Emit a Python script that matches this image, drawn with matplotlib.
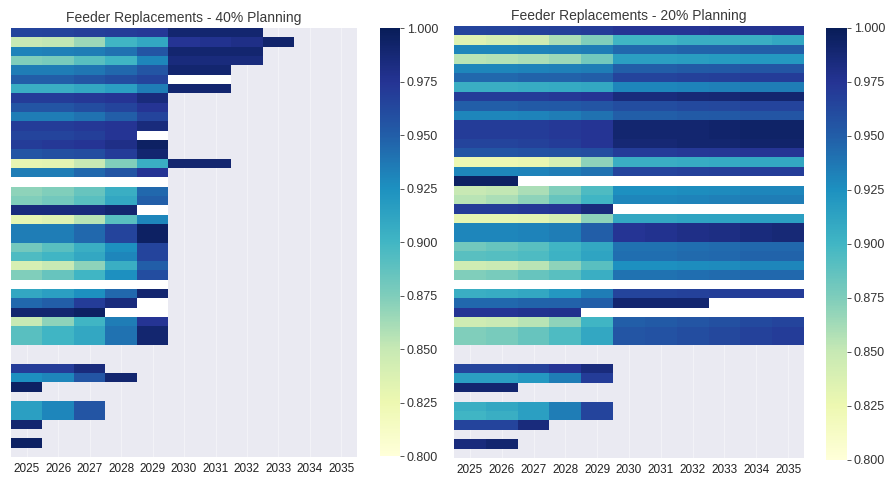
import numpy as np
import matplotlib
matplotlib.use("Agg")
import matplotlib.pyplot as plt
import seaborn as sns

years = [2025, 2026, 2027, 2028, 2029, 2030, 2031, 2032, 2033, 2034, 2035]
N = None   # feeder not in the plan for that year
Z = 0.0    # feeder listed, no rating (drawn white)

# Feeder ratings per year, 40% planning scenario (one row per feeder)
planning_40 = [
    [0.965, 0.966, 0.968, 0.970, 0.972, 0.990, 0.990, 0.990, N, N, N],
    [0.850, 0.852, 0.865, 0.900, 0.910, 0.975, 0.977, 0.980, 0.992, N, N],
    [0.932, 0.933, 0.935, 0.940, 0.955, 0.990, 0.990, 0.990, N, N, N],
    [0.875, 0.878, 0.890, 0.900, 0.930, 0.985, 0.985, 0.985, N, N, N],
    [0.935, 0.935, 0.938, 0.945, 0.955, 0.990, 0.990, N, N, N, N],
    [0.950, 0.950, 0.955, 0.960, 0.965, Z, Z, N, N, N, N],
    [0.905, 0.905, 0.910, 0.915, 0.935, 0.990, 0.990, N, N, N, N],
    [0.970, 0.970, 0.972, 0.975, 0.985, N, N, N, N, N, N],
    [0.955, 0.955, 0.960, 0.965, 0.975, N, N, N, N, N, N],
    [0.935, 0.935, 0.940, 0.950, 0.965, N, N, N, N, N, N],
    [0.970, 0.970, 0.972, 0.975, 0.985, N, N, N, N, N, N],
    [0.965, 0.965, 0.968, 0.975, Z, N, N, N, N, N, N],
    [0.970, 0.972, 0.975, 0.980, 0.995, N, N, N, N, N, N],
    [0.955, 0.958, 0.960, 0.970, 0.990, N, N, N, N, N, N],
    [0.830, 0.832, 0.850, 0.875, 0.905, 0.990, 0.990, N, N, N, N],
    [0.935, 0.935, 0.945, 0.955, 0.975, N, N, N, N, N, N],
    [Z, Z, Z, Z, Z, N, N, N, N, N, N],
    [0.870, 0.875, 0.885, 0.905, 0.945, N, N, N, N, N, N],
    [0.875, 0.880, 0.890, 0.910, 0.950, N, N, N, N, N, N],
    [0.985, 0.985, 0.985, 0.990, Z, N, N, N, N, N, N],
    [0.830, 0.835, 0.855, 0.890, 0.930, N, N, N, N, N, N],
    [0.935, 0.935, 0.945, 0.965, 0.995, N, N, N, N, N, N],
    [0.935, 0.935, 0.945, 0.965, 0.995, N, N, N, N, N, N],
    [0.880, 0.890, 0.905, 0.925, 0.965, N, N, N, N, N, N],
    [0.895, 0.900, 0.910, 0.930, 0.965, N, N, N, N, N, N],
    [0.840, 0.850, 0.870, 0.905, 0.950, N, N, N, N, N, N],
    [0.875, 0.885, 0.900, 0.925, 0.960, N, N, N, N, N, N],
    [Z, Z, Z, Z, Z, N, N, N, N, N, N],
    [0.910, 0.915, 0.925, 0.945, 0.990, N, N, N, N, N, N],
    [0.945, 0.950, 0.970, 0.985, Z, N, N, N, N, N, N],
    [0.990, 0.990, 0.995, Z, Z, N, N, N, N, N, N],
    [0.850, 0.870, 0.900, 0.935, 0.975, N, N, N, N, N, N],
    [0.890, 0.900, 0.910, 0.940, 0.990, N, N, N, N, N, N],
    [0.890, 0.900, 0.910, 0.940, 0.990, N, N, N, N, N, N],
    [N, N, N, N, N, N, N, N, N, N, N],
    [N, N, N, N, N, N, N, N, N, N, N],
    [0.970, 0.970, 0.985, N, N, N, N, N, N, N, N],
    [0.925, 0.930, 0.955, 0.990, N, N, N, N, N, N, N],
    [0.995, N, N, N, N, N, N, N, N, N, N],
    [N, N, N, N, N, N, N, N, N, N, N],
    [0.915, 0.930, 0.955, N, N, N, N, N, N, N, N],
    [0.915, 0.930, 0.955, N, N, N, N, N, N, N, N],
    [0.990, N, N, N, N, N, N, N, N, N, N],
    [N, N, N, N, N, N, N, N, N, N, N],
    [0.995, N, N, N, N, N, N, N, N, N, N],
    [N, N, N, N, N, N, N, N, N, N, N],
]

# Feeder ratings per year, 20% planning scenario (same feeder order)
planning_20 = [
    [0.965, 0.966, 0.967, 0.968, 0.970, 0.975, 0.975, 0.975, 0.976, 0.976, 0.977],
    [0.835, 0.840, 0.845, 0.860, 0.875, 0.900, 0.900, 0.905, 0.905, 0.905, 0.910],
    [0.930, 0.930, 0.932, 0.933, 0.935, 0.945, 0.945, 0.947, 0.948, 0.950, 0.950],
    [0.855, 0.857, 0.860, 0.865, 0.880, 0.915, 0.915, 0.917, 0.918, 0.920, 0.920],
    [0.930, 0.930, 0.932, 0.933, 0.935, 0.950, 0.950, 0.952, 0.953, 0.955, 0.955],
    [0.945, 0.945, 0.947, 0.948, 0.950, 0.965, 0.965, 0.967, 0.968, 0.970, 0.970],
    [0.905, 0.905, 0.907, 0.908, 0.910, 0.930, 0.930, 0.932, 0.933, 0.935, 0.935],
    [0.970, 0.970, 0.970, 0.972, 0.975, 0.985, 0.985, 0.987, 0.988, 0.990, 0.990],
    [0.950, 0.950, 0.952, 0.953, 0.955, 0.960, 0.960, 0.962, 0.963, 0.965, 0.965],
    [0.930, 0.930, 0.932, 0.935, 0.940, 0.950, 0.950, 0.952, 0.953, 0.955, 0.955],
    [0.970, 0.970, 0.970, 0.972, 0.975, 0.990, 0.990, 0.990, 0.992, 0.993, 0.993],
    [0.970, 0.970, 0.970, 0.972, 0.975, 0.990, 0.990, 0.990, 0.992, 0.993, 0.993],
    [0.965, 0.965, 0.967, 0.970, 0.975, 0.988, 0.988, 0.990, 0.990, 0.992, 0.992],
    [0.955, 0.955, 0.957, 0.958, 0.960, 0.970, 0.970, 0.972, 0.973, 0.975, 0.975],
    [0.825, 0.825, 0.828, 0.840, 0.870, 0.905, 0.905, 0.907, 0.908, 0.910, 0.910],
    [0.930, 0.930, 0.932, 0.935, 0.940, 0.965, 0.965, 0.967, 0.968, 0.970, 0.970],
    [0.995, 0.995, Z, Z, Z, Z, Z, Z, Z, Z, Z],
    [0.850, 0.852, 0.860, 0.875, 0.895, 0.925, 0.925, 0.927, 0.928, 0.930, 0.930],
    [0.855, 0.860, 0.870, 0.885, 0.900, 0.930, 0.930, 0.932, 0.933, 0.935, 0.935],
    [0.970, 0.970, 0.972, 0.975, 0.985, Z, Z, Z, Z, Z, Z],
    [0.830, 0.830, 0.832, 0.840, 0.870, 0.910, 0.910, 0.912, 0.913, 0.915, 0.915],
    [0.930, 0.930, 0.932, 0.935, 0.950, 0.975, 0.977, 0.980, 0.982, 0.985, 0.987],
    [0.930, 0.930, 0.932, 0.935, 0.950, 0.975, 0.977, 0.980, 0.982, 0.985, 0.987],
    [0.880, 0.885, 0.890, 0.900, 0.910, 0.940, 0.940, 0.942, 0.943, 0.945, 0.945],
    [0.890, 0.892, 0.895, 0.903, 0.912, 0.942, 0.942, 0.944, 0.945, 0.947, 0.947],
    [0.845, 0.848, 0.855, 0.870, 0.890, 0.925, 0.925, 0.927, 0.928, 0.930, 0.930],
    [0.875, 0.878, 0.885, 0.890, 0.905, 0.940, 0.940, 0.942, 0.943, 0.945, 0.945],
    [Z, Z, Z, Z, Z, Z, Z, Z, Z, Z, Z],
    [0.905, 0.907, 0.910, 0.920, 0.935, 0.965, 0.965, 0.967, 0.968, 0.970, 0.970],
    [0.945, 0.945, 0.947, 0.948, 0.950, 0.990, 0.990, 0.990, Z, Z, Z],
    [0.975, 0.975, 0.977, 0.978, Z, Z, Z, Z, Z, Z, Z],
    [0.845, 0.848, 0.855, 0.870, 0.900, 0.950, 0.952, 0.955, 0.958, 0.962, 0.965],
    [0.875, 0.878, 0.885, 0.895, 0.910, 0.955, 0.957, 0.960, 0.963, 0.967, 0.970],
    [0.875, 0.878, 0.885, 0.895, 0.910, 0.955, 0.957, 0.960, 0.963, 0.967, 0.970],
    [N, N, N, N, N, N, N, N, N, N, N],
    [N, N, N, N, N, N, N, N, N, N, N],
    [0.965, 0.965, 0.967, 0.975, 0.985, N, N, N, N, N, N],
    [0.915, 0.915, 0.920, 0.935, 0.970, N, N, N, N, N, N],
    [0.990, 0.990, N, N, N, N, N, N, N, N, N],
    [N, N, N, N, N, N, N, N, N, N, N],
    [0.905, 0.910, 0.915, 0.935, 0.965, N, N, N, N, N, N],
    [0.900, 0.905, 0.915, 0.935, 0.965, N, N, N, N, N, N],
    [0.965, 0.965, 0.985, N, N, N, N, N, N, N, N],
    [N, N, N, N, N, N, N, N, N, N, N],
    [0.985, 0.990, N, N, N, N, N, N, N, N, N],
    [N, N, N, N, N, N, N, N, N, N, N],
]

titles = ["Feeder Replacements - 40% Planning", "Feeder Replacements - 20% Planning"]
cbar_ticks = [0.800, 0.825, 0.850, 0.875, 0.900, 0.925, 0.950, 0.975, 1.000]

sns.set_theme(style="darkgrid")
plt.rcParams["font.family"] = ["Liberation Sans", "DejaVu Sans"]

cmap = plt.get_cmap("YlGnBu").copy()
cmap.set_under("white")

fig = plt.figure(figsize=(8.9, 4.78), dpi=100)

panels = [
    # heatmap axes rect, colorbar axes rect
    ([0.0124, 0.0439, 0.3888, 0.8975], [0.427, 0.0460, 0.0225, 0.8954]),
    ([0.5101, 0.0418, 0.3933, 0.9038], [0.928, 0.0377, 0.0236, 0.9038]),
]

for (rect, crect), data, title in zip(panels, [planning_40, planning_20], titles):
    ax = fig.add_axes(rect)
    cax = fig.add_axes(crect)
    arr = np.array([[np.nan if v is None else v for v in row] for row in data], dtype=float)
    sns.heatmap(arr, ax=ax, cbar_ax=cax, cmap=cmap, vmin=0.8, vmax=1.0,
                xticklabels=years, yticklabels=False)
    ax.set_title(title, fontsize=10, color="#3a3a3a", pad=4)
    ax.tick_params(axis="x", labelsize=8.5, labelrotation=0, length=0, pad=4,
                   labelcolor="#222222")
    ax.grid(True, axis="x", color="white", linewidth=0.8, alpha=0.4)
    cax.set_yticks(cbar_ticks)
    cax.set_yticklabels([f"{t:.3f}" for t in cbar_ticks])
    cax.tick_params(axis="y", labelsize=9, length=3, width=0.7, color="#555555",
                    labelcolor="#333333", pad=2)

fig.savefig("out.png", dpi=100)
